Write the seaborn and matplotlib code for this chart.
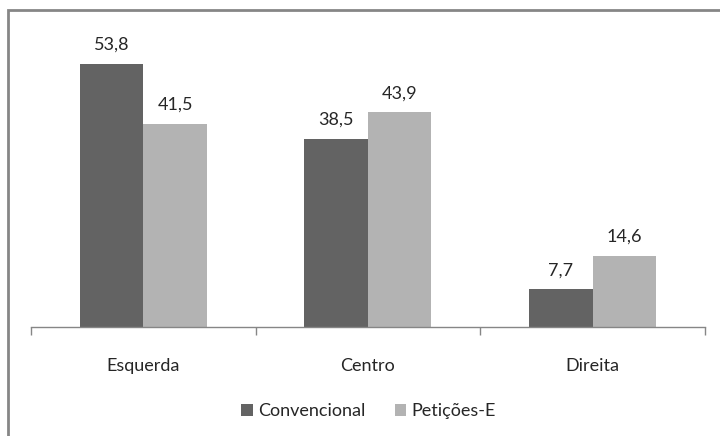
import seaborn as sns
import matplotlib.pyplot as plt
import pandas as pd
from matplotlib.patches import Rectangle

categorias = ['Esquerda', 'Centro', 'Direita']
convencional = [53.8, 38.5, 7.7]
peticoes_e = [41.5, 43.9, 14.6]
series = ['Convencional', 'Petições-E']

df = pd.DataFrame({
    'categoria': categorias * 2,
    'valor': convencional + peticoes_e,
    'serie': [series[0]] * 3 + [series[1]] * 3,
})

sns.set_theme(style='white')
plt.rcParams['font.family'] = ['Lato', 'DejaVu Sans']

fig = plt.figure(figsize=(7.2, 4.36), dpi=100)
ax = fig.add_axes([0.043, 0.25, 0.936, 0.673])

sns.barplot(data=df, x='categoria', y='valor', hue='serie',
            palette=['#636363', '#b3b3b3'], width=0.565, saturation=1,
            linewidth=0, edgecolor='none', ax=ax)

# value labels with comma decimals
for cont in ax.containers:
    ax.bar_label(cont, labels=[f'{v:.1f}'.replace('.', ',') for v in cont.datavalues],
                 padding=8, fontsize=13, color='#262626')

ax.set_xlim(-0.5, 2.5)
ax.set_ylim(0, 60)
ax.set_xlabel('')
ax.set_ylabel('')
ax.set_yticks([])
for s in ['top', 'left', 'right']:
    ax.spines[s].set_visible(False)
ax.spines['bottom'].set_color('#868686')
ax.spines['bottom'].set_linewidth(1)

ax.set_xticks([-0.5, 0.5, 1.5, 2.5], minor=True)
ax.tick_params(axis='x', which='minor', length=6, color='#868686', direction='out', bottom=True)
ax.tick_params(axis='x', which='major', length=0, labelsize=13, labelcolor='#262626', pad=22)

ax.legend(loc='center', bbox_to_anchor=(0.512, 0.057), bbox_transform=fig.transFigure,
          ncol=2, frameon=False, fontsize=13, handlelength=0.65, handleheight=0.65,
          handletextpad=0.3, columnspacing=1.6, labelcolor='#262626')

# outer chart border
fig.patches.append(Rectangle((8 / 720, -0.1), 1.2, 1 - 10 / 436 + 0.1,
                             transform=fig.transFigure, fill=False,
                             edgecolor='#868686', linewidth=2))

fig.savefig('out.png', dpi=100)
